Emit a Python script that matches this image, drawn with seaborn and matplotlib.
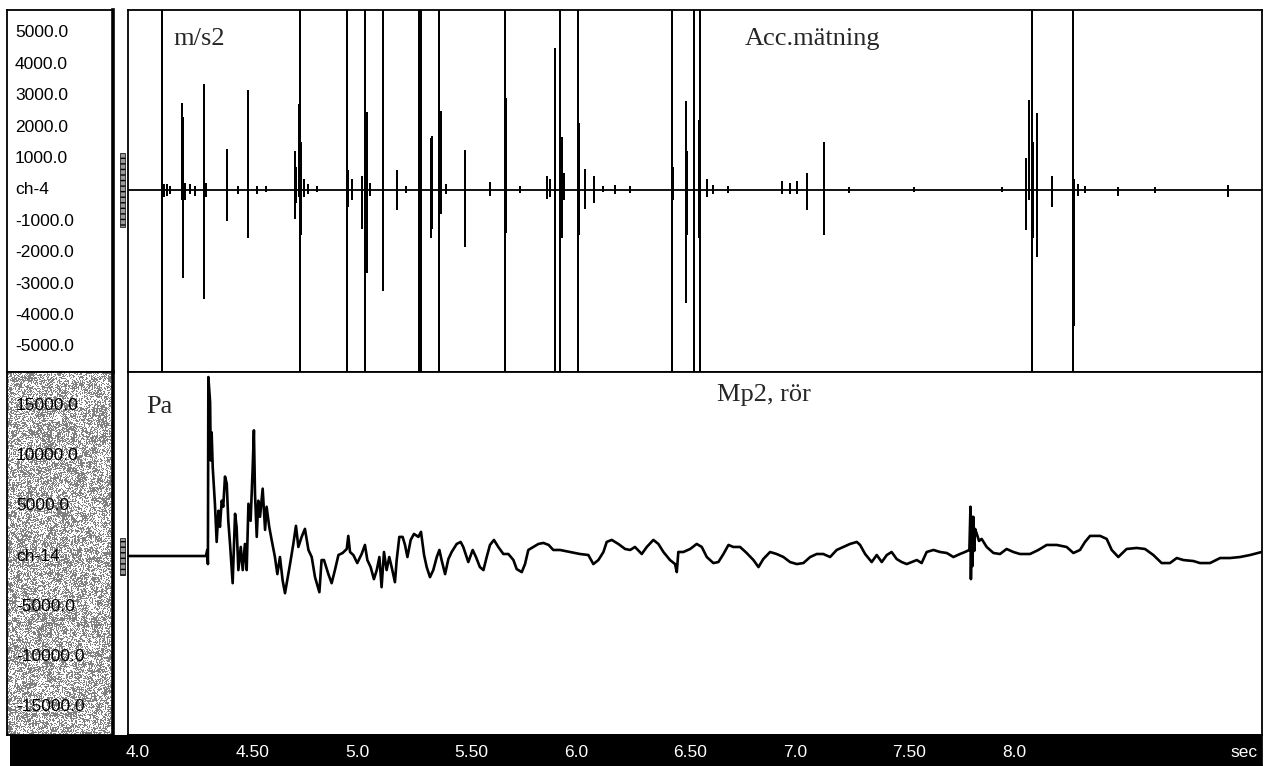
import numpy as np
import pandas as pd
import matplotlib
matplotlib.use("Agg")
import matplotlib.pyplot as plt
from matplotlib.patches import Rectangle
from matplotlib.transforms import blended_transform_factory as blend
import seaborn as sns

# ---------------------------------------------------------------- data
# Channel ch-4: accelerometer, m/s2. Each event is one impulse with its
# positive and negative peak; +/-6000 means the trace runs off scale.
acc_t = [4.163, 4.166, 4.172, 4.185, 4.200, 4.254, 4.258, 4.262, 4.270, 4.290,
         4.315, 4.356, 4.365, 4.460, 4.463, 4.510, 4.556, 4.559, 4.600, 4.640,
         4.772, 4.778, 4.790, 4.795, 4.800, 4.815, 4.830, 4.870, 5.008, 5.012,
         5.030, 5.079, 5.091, 5.102, 5.115, 5.175, 5.236, 5.280, 5.338, 5.347,
         5.391, 5.397, 5.431, 5.437, 5.460, 5.548, 5.662, 5.731, 5.734, 5.800,
         5.921, 5.935, 5.959, 5.982, 5.989, 6.000, 6.065, 6.070, 6.096, 6.138,
         6.180, 6.233, 6.300, 6.492, 6.498, 6.556, 6.560, 6.594, 6.615, 6.621,
         6.652, 6.680, 6.750, 6.994, 7.032, 7.062, 7.111, 7.187, 7.300, 7.600,
         8.000, 8.108, 8.123, 8.135, 8.140, 8.161, 8.230, 8.323, 8.327, 8.347,
         8.380, 8.530, 8.700, 9.032]
acc_hi = [6000, 600, 150, 150, 100, 2740, 2300, 300, 200, 150,
          100, 3340, 200, 1270, 600, 100, 3160, 1000, 100, 100,
          1210, 700, 2710, 6000, 1500, 300, 150, 100, 6000, 600,
          300, 400, 6000, 2450, 200, 6000, 610, 100, 6000, 6000,
          1620, 1700, 6000, 2480, 150, 1240, 220, 6000, 2900, 80,
          400, 300, 4500, 6000, 1660, 500, 6000, 2100, 640, 400,
          100, 120, 80, 6000, 700, 2800, 1200, 6000, 2200, 6000,
          300, 120, 80, 250, 200, 250, 510, 1500, 60, 50,
          60, 970, 2830, 6000, 1500, 2410, 420, 6000, 300, 170,
          100, 70, 60, 140]
acc_lo = [-6000, -2100, -200, -150, -100, -300, -800, -2770, -300, -100,
          -150, -3440, -200, -960, -900, -100, -1500, -1500, -100, -50,
          -890, -400, -200, -6000, -1400, -200, -100, -50, -6000, -500,
          -300, -1210, -6000, -2600, -150, -3190, -610, -80, -6000, -6000,
          -1500, -1200, -6000, -730, -100, -1780, -160, -6000, -1350, -60,
          -270, -200, -6000, -6000, -1500, -300, -6000, -1400, -570, -380,
          -50, -100, -60, -6000, -300, -3570, -1400, -6000, -1500, -6000,
          -200, -100, -80, -110, -110, -110, -600, -1420, -60, -50,
          -50, -1260, -300, -6000, -1500, -2090, -500, -6000, -4290, -150,
          -80, -150, -60, -180]

# Channel ch-14: pipe pressure at Mp2, Pa.
p_t = [4.009, 4.365, 4.371, 4.374, 4.376, 4.384, 4.387, 4.391, 4.396, 4.406,
       4.414, 4.422, 4.429, 4.437, 4.444, 4.452, 4.460, 4.467, 4.475, 4.487,
       4.498, 4.505, 4.513, 4.524, 4.533, 4.543, 4.551, 4.559, 4.569, 4.578,
       4.584, 4.589, 4.597, 4.604, 4.612, 4.624, 4.635, 4.642, 4.654, 4.665,
       4.680, 4.691, 4.703, 4.715, 4.726, 4.734, 4.749, 4.764, 4.776, 4.787,
       4.802, 4.817, 4.833, 4.848, 4.863, 4.883, 4.893, 4.904, 4.924, 4.939,
       4.954, 4.970, 4.989, 5.008, 5.015, 5.023, 5.038, 5.056, 5.076, 5.091,
       5.102, 5.117, 5.132, 5.145, 5.157, 5.167, 5.178, 5.190, 5.202, 5.213,
       5.228, 5.236, 5.248, 5.263, 5.274, 5.285, 5.300, 5.315, 5.335, 5.347,
       5.361, 5.373, 5.388, 5.403, 5.419, 5.431, 5.441, 5.457, 5.472, 5.487,
       5.510, 5.528, 5.540, 5.563, 5.583, 5.598, 5.616, 5.632, 5.647, 5.662,
       5.680, 5.700, 5.723, 5.746, 5.769, 5.784, 5.807, 5.822, 5.837, 5.860,
       5.883, 5.906, 5.930, 5.951, 5.982, 6.028, 6.073, 6.111, 6.134, 6.157,
       6.180, 6.195, 6.218, 6.248, 6.279, 6.302, 6.324, 6.355, 6.378, 6.408,
       6.431, 6.454, 6.484, 6.507, 6.515, 6.522, 6.545, 6.576, 6.606, 6.629,
       6.652, 6.682, 6.705, 6.728, 6.751, 6.773, 6.804, 6.834, 6.865, 6.888,
       6.910, 6.941, 6.971, 7.002, 7.032, 7.063, 7.093, 7.124, 7.154, 7.184,
       7.215, 7.245, 7.276, 7.306, 7.337, 7.352, 7.375, 7.405, 7.428, 7.451,
       7.474, 7.496, 7.519, 7.542, 7.565, 7.588, 7.611, 7.633, 7.656, 7.687,
       7.717, 7.748, 7.778, 7.808, 7.831, 7.851, 7.856, 7.858, 7.862, 7.865,
       7.869, 7.873, 7.877, 7.885, 7.895, 7.907, 7.930, 7.961, 7.991, 8.021,
       8.052, 8.082, 8.128, 8.166, 8.204, 8.250, 8.295, 8.326, 8.356, 8.379,
       8.402, 8.448, 8.478, 8.501, 8.531, 8.569, 8.615, 8.653, 8.691, 8.729,
       8.767, 8.798, 8.828, 8.874, 8.904, 8.950, 8.996, 9.041, 9.087, 9.133,
       9.186]
p_val = [0, 0, 600, -800, 17800, 15300, 9500, 12300, 8800, 5200,
         1400, 4500, 2900, 5500, 4900, 7900, 7200, 3500, 1200, -2700,
         4200, 2900, -1400, 900, -1400, 1200, -1400, 5200, 3500, 8500,
         12500, 6200, 1900, 5500, 3900, 6700, 2600, 4900, 2900, 1600,
         -100, -1800, -100, -2400, -3700, -2700, -800, 1200, 3000, 900,
         1900, 2700, 600, -100, -2100, -3600, -400, -400, -1800, -2700,
         -1400, 100, 300, 700, 2000, 400, 100, -700, 200, 1100,
         -400, -1100, -2300, -1400, -100, -3100, 400, -1400, -100, -1100,
         -2600, -400, 1900, 1900, 1100, -100, 1600, 2200, 1900, 2400,
         100, -1100, -2100, -1400, -100, 600, -400, -1800, -300, 400,
         1200, 1400, 900, -600, 600, -100, -1100, -1400, -100, 1100,
         1600, 900, 200, 200, -400, -1300, -1600, -800, 600, 900,
         1200, 1300, 1100, 600, 600, 400, 200, 100, -800, -400,
         400, 1400, 1600, 1200, 700, 600, 900, 200, 900, 1600,
         1200, 400, -400, -800, -1600, 400, 400, 700, 1200, 900,
         -100, -700, -600, 200, 1100, 900, 900, 300, -400, -1100,
         -300, 400, 200, -100, -600, -800, -700, -100, 200, 200,
         -100, 600, 900, 1200, 1400, 1100, 200, -600, 100, -600,
         100, 400, -300, -600, -800, -600, -400, -700, 400, 600,
         400, 300, -100, 200, 400, 600, 4900, -2300, 3900, -1000,
         3900, 500, 2700, 2200, 1500, 1700, 900, 300, 200, 700,
         400, 200, 200, 600, 1100, 1100, 900, 300, 600, 1400,
         2000, 2000, 1700, 600, -100, 700, 800, 700, 100, -700,
         -700, -200, -400, -500, -700, -700, -200, -200, -100, 100,
         400]

# Axis annotation
acc_levels = [5000, 4000, 3000, 2000, 1000, 0, -1000, -2000, -3000, -4000, -5000]
acc_labels = ["5000.0", "4000.0", "3000.0", "2000.0", "1000.0", "ch-4",
              "-1000.0", "-2000.0", "-3000.0", "-4000.0", "-5000.0"]
p_levels = [15000, 10000, 5000, 0, -5000, -10000, -15000]
p_labels = ["15000.0", "10000.0", "5000.0", "ch-14", "-5000.0", "-10000.0", "-15000.0"]
time_ticks = [4.0, 4.5, 5.0, 5.5, 6.0, 6.5, 7.0, 7.5, 8.0]
time_labels = ["4.0", "4.50", "5.0", "5.50", "6.0", "6.50", "7.0", "7.50", "8.0"]

T_START, T_END = 4.0091, 9.1872
ACC_LIM = (-5800, 5730)
P_LIM = (-17800, 18300)

# ------------------------------------------------------------- figure
sns.set_theme(style="white")
plt.rcParams["font.family"] = ["Liberation Sans", "DejaVu Sans"]
SERIF = ["Liberation Serif", "DejaVu Serif"]

W, H = 1264, 766
fig = plt.figure(figsize=(W / 100, H / 100), dpi=100, facecolor="white")


def box(x0, y0, x1, y1):
    return [x0 / W, 1 - y1 / H, (x1 - x0) / W, (y1 - y0) / H]


# black strip under the scale panels, behind every axes
fig.patches.append(Rectangle((10 / W, 0), 120 / W, 31 / H,
                             transform=fig.transFigure, facecolor="black",
                             edgecolor="none", zorder=-5))

ax_top = fig.add_axes(box(128, 10, 1262, 372))
ax_bot = fig.add_axes(box(128, 372, 1262, 735))
lab_top = fig.add_axes(box(7, 10, 113, 372))
lab_bot = fig.add_axes(box(7, 372, 113, 735))
bar = fig.add_axes(box(128, 735, 1262, 766))
bar.set_zorder(2)

# Impulse trace: each event is a vertical excursion from the zero line
ev_x, ev_y = [T_START], [0.0]
for t, hi, lo in zip(acc_t, acc_hi, acc_lo):
    ev_x += [t, t, t, t]
    ev_y += [0.0, hi, lo, 0.0]
ev_x.append(T_END)
ev_y.append(0.0)
acc_df = pd.DataFrame({"t": ev_x, "a": ev_y})
sns.lineplot(data=acc_df, x="t", y="a", ax=ax_top, sort=False, estimator=None,
             color="black", linewidth=1.3)

p_df = pd.DataFrame({"t": p_t, "p": p_val})
sns.lineplot(data=p_df, x="t", y="p", ax=ax_bot, sort=False, estimator=None,
             color="black", linewidth=1.9)

for ax, lim in ((ax_top, ACC_LIM), (ax_bot, P_LIM)):
    ax.set_xlim(T_START, T_END)
    ax.set_ylim(*lim)
    ax.set_xlabel("")
    ax.set_ylabel("")
    ax.set_xticks([])
    ax.set_yticks([])
    ax.set_facecolor("white")
    for s in ax.spines.values():
        s.set_visible(True)
        s.set_color("black")
        s.set_linewidth(1.3)

# Channel titles
title_kw = dict(family=SERIF, fontsize=19, va="baseline", ha="left")
ax_top.text(0.040, 0.903, "m/s2", transform=ax_top.transAxes, **title_kw)
ax_top.text(0.544, 0.903, "Acc.mätning", transform=ax_top.transAxes, **title_kw)
ax_bot.text(0.016, 0.887, "Pa", transform=ax_bot.transAxes, **title_kw)
ax_bot.text(0.519, 0.920, "Mp2, rör", transform=ax_bot.transAxes, **title_kw)

# Scale panels on the left; the lower one has a stippled grey ground
tex_h, tex_w = 363, 106
rng = np.random.default_rng(7)
speck = rng.random((tex_h, tex_w)) < 0.40
mottle = rng.random((tex_h // 5 + 1, tex_w // 5 + 1)) < 0.35
mottle = np.kron(mottle, np.ones((5, 5)))[:tex_h, :tex_w].astype(bool)
texture = np.where(speck | (mottle & (rng.random((tex_h, tex_w)) < 0.5)), 0.5, 1.0)
lab_bot.imshow(texture, cmap="gray", vmin=0, vmax=1, aspect="auto",
               interpolation="nearest", extent=(0, 1, 0, 1), zorder=0)
lab_bot.set_xlim(0, 1)
lab_bot.set_ylim(0, 1)

for lab in (lab_top, lab_bot):
    lab.set_xticks([])
    lab.set_yticks([])
    lab.set_facecolor("white")
    for s in lab.spines.values():
        s.set_color("black")
        s.set_linewidth(1.3)
    lab.spines["right"].set_linewidth(2.6)

tr_top = blend(lab_top.transAxes, ax_top.transData)
for v, s in zip(acc_levels, acc_labels):
    lab_top.text(0.075, v, s, transform=tr_top, fontsize=12.5, va="center",
                 ha="left", color="black")
tr_bot = blend(lab_bot.transAxes, ax_bot.transData)
for v, s in zip(p_levels, p_labels):
    lab_bot.text(0.085, v, s, transform=tr_bot, fontsize=12.5, va="center",
                 ha="left", color="black", zorder=3)

# Scroll markers between the scale panels and the traces
for y0, y1 in ((153, 227), (538, 575)):
    fig.patches.append(Rectangle((120 / W, 1 - y1 / H), 5 / W, (y1 - y0) / H,
                                 transform=fig.transFigure, facecolor="#9a9a9a",
                                 edgecolor="black", linewidth=0.5, hatch="---"))

# Time bar
bar.set_facecolor("black")
bar.set_xlim(T_START, T_END)
bar.set_ylim(0, 1)
bar.set_xticks([])
bar.set_yticks([])
for s in bar.spines.values():
    s.set_color("black")
tr_bar = blend(bar.transData, bar.transAxes)
for t, s in zip(time_ticks, time_labels):
    bar.text(t, 0.45, s, transform=tr_bar, color="white", fontsize=12.5,
             ha="left", va="center", clip_on=False)
bar.text(0.996, 0.45, "sec", transform=bar.transAxes, color="white",
         fontsize=12.5, ha="right", va="center")

fig.savefig("out.png", dpi=100, facecolor="white")
